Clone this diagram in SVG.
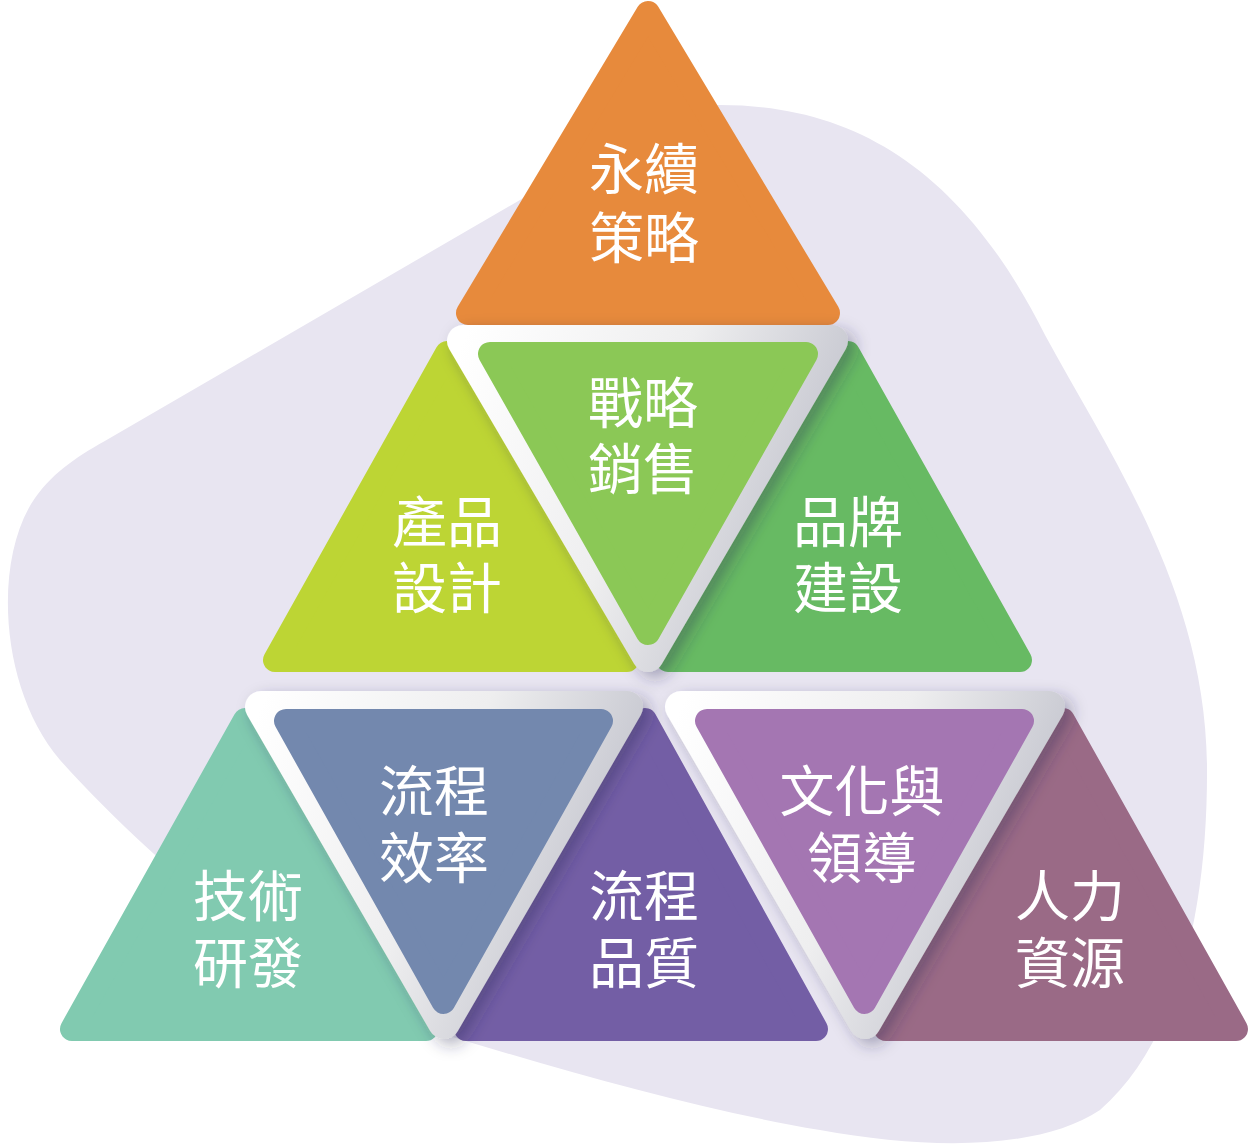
<svg xmlns="http://www.w3.org/2000/svg" width="1249" height="1145" viewBox="0 0 1249 1145">
<defs>
<linearGradient id="frameGrad" x1="0" y1="0" x2="1" y2="0.35">
<stop offset="0" stop-color="#FFFFFF"/>
<stop offset="0.55" stop-color="#EEEEEF"/>
<stop offset="1" stop-color="#C5C6CF"/>
</linearGradient>
<filter id="shadow" x="-20%" y="-20%" width="140%" height="140%">
<feDropShadow dx="7" dy="6" stdDeviation="8" flood-color="#2E2850" flood-opacity="0.35"/>
</filter>
</defs>
<style>
.tri{stroke-linejoin:round;stroke-width:24}
.frame{fill:url(#frameGrad);stroke:url(#frameGrad);stroke-width:32;stroke-linejoin:round;filter:url(#shadow)}
.lbl{font-family:"Noto Sans CJK TC","Noto Sans CJK SC",sans-serif;font-size:55px;fill:#FFFFFF;text-anchor:middle}
</style>
<rect width="1249" height="1145" fill="#FFFFFF"/>
<path id="blob" d="M 720 105 C 860 105 965 175 1045 335 C 1110 455 1205 590 1207 765 C 1208 905 1180 1040 1100 1110 C 1040 1150 930 1150 820 1130 C 700 1110 560 1070 430 1030 C 300 990 150 860 60 760 C 0 690 -8 560 35 498 C 55 470 80 455 110 438 L 520 200 C 600 150 650 105 720 105 Z" fill="#E8E5F1"/>

<g id="node-yongxu">
<polygon class="tri" points="648,13 468,313 828,313" fill="#E78A3C" stroke="#E78A3C"/>
<text class="lbl" x="644" y="189">永續<tspan x="644" y="258">策略</tspan></text>
</g>
<g id="node-chanpin">
<polygon class="tri" points="447,353 275,660 627,660" fill="#BDD534" stroke="#BDD534"/>
<text class="lbl" x="447" y="542">產品<tspan x="447" y="608">設計</tspan></text>
</g>
<g id="node-pinpai">
<polygon class="tri" points="848,353 668,660 1020,660" fill="#67BA63" stroke="#67BA63"/>
<text class="lbl" x="848" y="542">品牌<tspan x="848" y="608">建設</tspan></text>
</g>
<g id="node-zhanlue">
<polygon class="frame" points="463,341 832,341 648,656"/>
<polygon class="tri" points="490,354 806,354 648,633" fill="#8BC856" stroke="#8BC856"/>
<text class="lbl" x="643" y="423">戰略<tspan x="643" y="489">銷售</tspan></text>
</g>
<g id="node-jishu">
<polygon class="tri" points="245,720 72,1029 426,1029" fill="#81CAB0" stroke="#81CAB0"/>
<text class="lbl" x="248" y="916">技術<tspan x="248" y="983">研發</tspan></text>
</g>
<g id="node-pinzhi">
<polygon class="tri" points="645,720 466,1029 816,1029" fill="#735EA5" stroke="#735EA5"/>
<text class="lbl" x="644" y="916">流程<tspan x="644" y="983">品質</tspan></text>
</g>
<g id="node-renli">
<polygon class="tri" points="1063,720 886,1029 1236,1029" fill="#9A6A86" stroke="#9A6A86"/>
<text class="lbl" x="1070" y="916">人力<tspan x="1070" y="983">資源</tspan></text>
</g>
<g id="node-xiaolv">
<polygon class="frame" points="261,707 627,707 444,1023"/>
<polygon class="tri" points="286,721 601,721 443.5,1002" fill="#7388AE" stroke="#7388AE"/>
<text class="lbl" x="434" y="811">流程<tspan x="434" y="878">效率</tspan></text>
</g>
<g id="node-wenhua">
<polygon class="frame" points="681,707 1049,707 865,1023"/>
<polygon class="tri" points="707,721 1022,721 864.5,1002" fill="#A476B2" stroke="#A476B2"/>
<text class="lbl" x="862" y="811">文化與<tspan x="862" y="878">領導</tspan></text>
</g>
<g id="connectors"></g>
</svg>
